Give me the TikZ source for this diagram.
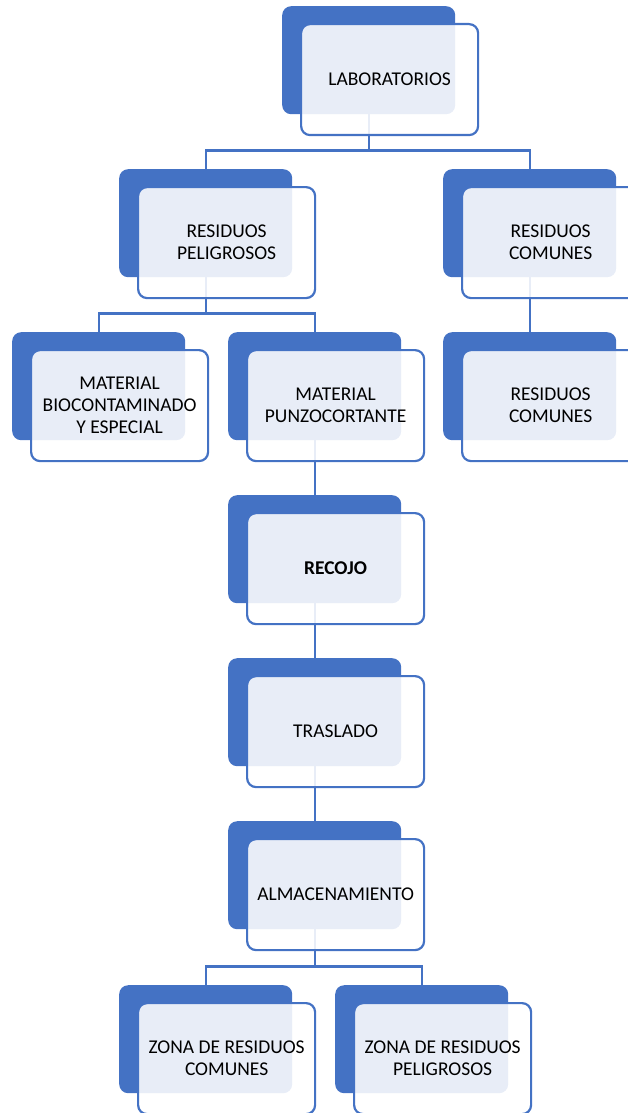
\documentclass[tikz,border=0pt]{standalone}
\usepackage{fontspec}
\setmainfont{Carlito}
\definecolor{accent}{HTML}{4472C4}
\begin{document}
\begin{tikzpicture}[x=1pt,y=-1pt,
  back/.style={fill=accent,draw=none,rounded corners=9pt,minimum width=173pt,minimum height=108pt,anchor=north west,inner sep=0pt},
  front/.style={fill=white,fill opacity=0.88,text opacity=1,draw=accent,line width=2.2pt,rounded corners=9pt,minimum width=177pt,minimum height=111pt,anchor=north west,inner sep=0pt},
  lbl/.style={align=center,font=\fontsize{19.5}{22}\selectfont},
  conn/.style={draw=accent,line width=2.2pt}]
\useasboundingbox (0,0) rectangle (628,1113);
\clip (0,0) rectangle (628,1113);
% back rectangles
\node[back] (labb) at (282,6) {};
\node[back] (rpb) at (119,169) {};
\node[back] (rcb) at (443,169) {};
\node[back] (mbb) at (12,332) {};
\node[back] (mpb) at (228,332) {};
\node[back] (rc2b) at (443,332) {};
\node[back] (recb) at (228,495) {};
\node[back] (trab) at (228,658) {};
\node[back] (almb) at (228,821) {};
\node[back] (zcb) at (119,985) {};
\node[back] (zpb) at (335,985) {};
% connectors
\draw[conn] (labb.south) -- ++(0,36) -| (rpb.north);
\draw[conn] (labb.south) -- ++(0,36) -| (rcb.north);
\draw[conn] (rpb.south) -- ++(0,36) -| (mbb.north);
\draw[conn] (rpb.south) -- ++(0,36) -| (mpb.north);
\draw[conn] (rcb.south) -- (rc2b.north);
\draw[conn] (mpb.south) -- (recb.north);
\draw[conn] (recb.south) -- (trab.north);
\draw[conn] (trab.south) -- (almb.north);
\draw[conn] (almb.south) -- ++(0,37) -| (zcb.north);
\draw[conn] (almb.south) -- ++(0,37) -| (zpb.north);
% front rectangles
\node[front] (lab) at (300,23) {};
\node[lbl] at (lab.center) {LABORATORIOS};
\node[front] (rp) at (137,186) {};
\node[lbl] at (rp.center) {RESIDUOS\\PELIGROSOS};
\node[front] (rc) at (461,186) {};
\node[lbl] at (rc.center) {RESIDUOS\\COMUNES};
\node[front] (mb) at (30,349) {};
\node[lbl] at (mb.center) {MATERIAL\\BIOCONTAMINADO\\Y ESPECIAL};
\node[front] (mp) at (246,349) {};
\node[lbl] at (mp.center) {MATERIAL\\PUNZOCORTANTE};
\node[front] (rc2) at (461,349) {};
\node[lbl] at (rc2.center) {RESIDUOS\\COMUNES};
\node[front] (rec) at (246,512) {};
\node[lbl,font=\fontsize{19.5}{22}\selectfont\bfseries] at (rec.center) {RECOJO};
\node[front] (tra) at (246,675) {};
\node[lbl] at (tra.center) {TRASLADO};
\node[front] (alm) at (246,838) {};
\node[lbl] at (alm.center) {ALMACENAMIENTO};
\node[front] (zc) at (137,1002) {};
\node[lbl] at (zc.center) {ZONA DE RESIDUOS\\COMUNES};
\node[front] (zp) at (353,1002) {};
\node[lbl] at (zp.center) {ZONA DE RESIDUOS\\PELIGROSOS};
\end{tikzpicture}
\end{document}
